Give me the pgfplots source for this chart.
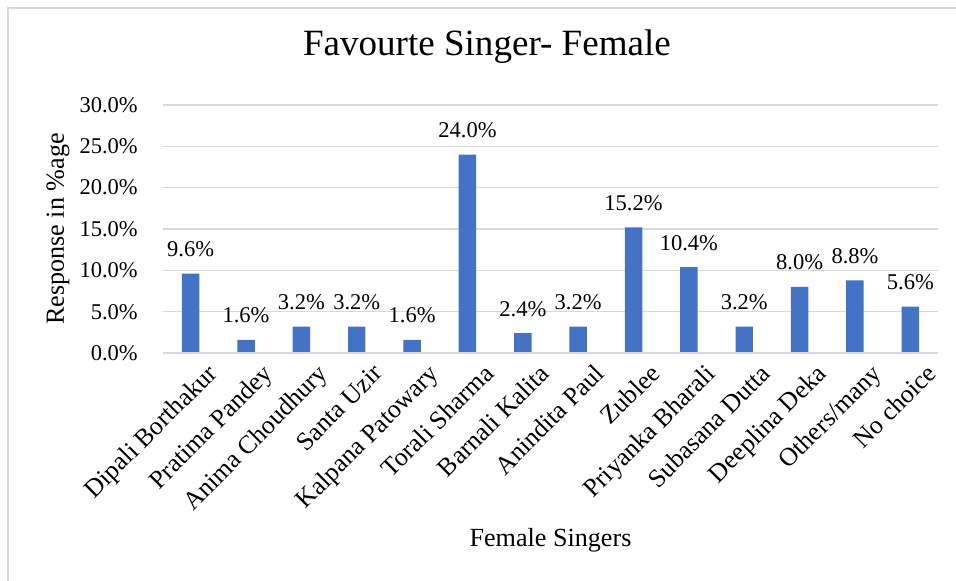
\documentclass[border=0pt]{standalone}
\usepackage{fontspec}
\setmainfont{Liberation Serif}
\usepackage{pgfplots}
\pgfplotsset{compat=1.18}
\definecolor{barblue}{HTML}{4472C4}
\definecolor{gridgray}{HTML}{D9D9D9}
\begin{document}
\begin{tikzpicture}
\useasboundingbox (-122.25pt,-171pt) rectangle (594.75pt,264.75pt);
\begin{axis}[
  at={(0,0)}, anchor=south west,
  scale only axis,
  width=581.25pt, height=186pt,
  xmin=-0.5, xmax=13.5,
  ymin=0, ymax=30,
  /pgf/number format/assume math mode=true,
  ybar, bar width=13.1pt,
  axis line style={draw=none},
  major tick length=0pt,
  ytick={0,5,10,15,20,25,30},
  yticklabels={0.0\%,5.0\%,10.0\%,15.0\%,20.0\%,25.0\%,30.0\%},
  ymajorgrids, grid style={gridgray, line width=1pt},
  xtick=data,
  xticklabels={Dipali Borthakur,Pratima Pandey,Anima Choudhury,Santa Uzir,Kalpana Patowary,Torali Sharma,Barnali Kalita,Anindita Paul,Zublee,Priyanka Bharali,Subasana Dutta,Deeplina Deka,Others/many,No choice},
  yticklabel style={font=\fontsize{16.9pt}{18pt}\selectfont, inner sep=0pt, anchor=east, xshift=-18.75pt},
  xticklabel style={font=\fontsize{19.3pt}{21pt}\selectfont, rotate=45, anchor=north east, inner sep=0pt, yshift=-13pt, xshift=3pt},
  title={Favourte Singer- Female},
  title style={at={(axis description cs:0.418,1.169)}, anchor=base, font=\fontsize{27.8pt}{30pt}\selectfont},
  xlabel={Female Singers},
  xlabel style={at={(axis description cs:0.5,-0.782)}, anchor=base, font=\fontsize{19.6pt}{22pt}\selectfont},
  ylabel={Response in \%age},
  ylabel style={at={(axis description cs:-0.1355,0.5)}, anchor=center, rotate=0, font=\fontsize{19.6pt}{22pt}\selectfont},
  nodes near coords={\pgfmathprintnumber[fixed,fixed zerofill,precision=1]{\pgfplotspointmeta}\%},
  nodes near coords style={anchor=base, yshift=12.75pt, font=\fontsize{16.9pt}{18pt}\selectfont},
]
\addplot[fill=barblue, draw=none] coordinates {
 (0,9.6) (1,1.6) (2,3.2) (3,3.2) (4,1.6) (5,24.0) (6,2.4)
 (7,3.2) (8,15.2) (9,10.4) (10,3.2) (11,8.0) (12,8.8) (13,5.6)
};
\draw[gridgray, line width=1pt] (axis cs:-0.5,0) -- (axis cs:13.5,0);
\end{axis}
\draw[gridgray, line width=1pt] (-116.25pt,-171pt) -- (-116.25pt,258.75pt) -- (594.75pt,258.75pt);
\end{tikzpicture}
\end{document}
